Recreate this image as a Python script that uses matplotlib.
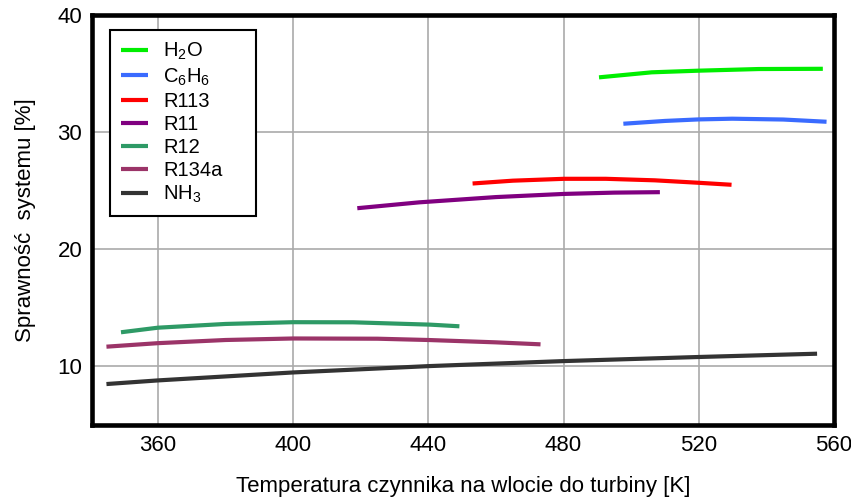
import matplotlib
matplotlib.use("Agg")
import matplotlib.pyplot as plt

FONT = ["Liberation Sans", "DejaVu Sans"]
plt.rcParams["font.family"] = FONT
plt.rcParams["mathtext.fontset"] = "custom"
plt.rcParams["mathtext.rm"] = "Liberation Sans"
plt.rcParams["mathtext.it"] = "Liberation Sans"

# values (T [K], efficiency [%])
h2o_t = [490.5, 506.1, 520.0, 537.7, 556.7]
h2o_eff = [34.67, 35.10, 35.24, 35.38, 35.40]

c6h6_t = [497.7, 510.0, 520.0, 529.9, 545.0, 557.8]
c6h6_eff = [30.71, 30.95, 31.08, 31.14, 31.07, 30.88]

r113_t = [453.1, 465.0, 480.2, 492.5, 507.0, 520.0, 529.7]
r113_eff = [25.61, 25.85, 26.01, 26.01, 25.88, 25.67, 25.50]

r11_t = [419.0, 437.3, 460.0, 480.2, 495.0, 508.5]
r11_eff = [23.50, 24.00, 24.45, 24.72, 24.83, 24.87]

r12_t = [349.1, 360.0, 380.0, 400.0, 417.8, 440.6, 449.2]
r12_eff = [12.91, 13.30, 13.62, 13.77, 13.76, 13.56, 13.42]

r134a_t = [344.8, 360.0, 380.0, 400.0, 425.0, 440.0, 460.0, 473.2]
r134a_eff = [11.68, 11.98, 12.25, 12.38, 12.36, 12.25, 12.05, 11.88]

nh3_t = [344.8, 360.0, 400.0, 440.0, 480.0, 520.0, 555.0]
nh3_eff = [8.49, 8.80, 9.48, 10.02, 10.45, 10.80, 11.08]

series = [
    (r"H$_\mathrm{2}$O", h2o_t, h2o_eff, "#00ee00"),
    (r"C$_\mathrm{6}$H$_\mathrm{6}$", c6h6_t, c6h6_eff, "#3a6bff"),
    ("R113", r113_t, r113_eff, "#ff0000"),
    ("R11", r11_t, r11_eff, "#800080"),
    ("R12", r12_t, r12_eff, "#2e9a66"),
    ("R134a", r134a_t, r134a_eff, "#9b3468"),
    (r"NH$_\mathrm{3}$", nh3_t, nh3_eff, "#333333"),
]

x_ticks = [360, 400, 440, 480, 520, 560]
y_ticks = [10, 20, 30, 40]

fig = plt.figure(figsize=(8.51, 4.97), dpi=100)
ax = fig.add_axes([0.108, 0.145, 0.872, 0.825])

for label, t, eff, color in series:
    ax.plot(t, eff, color=color, linewidth=3.0, label=label, solid_capstyle="butt")

ax.set_xlim(340.5, 560)
ax.set_ylim(5, 40)
ax.set_xticks(x_ticks)
ax.set_yticks(y_ticks)
ax.grid(True, color="#aaaaaa", linewidth=1.2)
ax.set_axisbelow(True)
ax.tick_params(length=0, labelsize=16, pad=7)
for sp in ax.spines.values():
    sp.set_linewidth(3.3)
    sp.set_color("black")

ax.set_xlabel("Temperatura czynnika na wlocie do turbiny [K]", fontsize=16, labelpad=15)
ax.set_ylabel("Sprawność  systemu [%]", fontsize=16, labelpad=15)

leg = ax.legend(loc="upper left", bbox_to_anchor=(0.024, 0.963 - 0.45, 0.197, 0.45),
                mode="expand", borderaxespad=0,
                fontsize=14.5, handlelength=1.35, handletextpad=0.75, labelspacing=0.2,
                borderpad=0.55, fancybox=False, framealpha=1)
leg.get_frame().set_edgecolor("black")
leg.get_frame().set_linewidth(1.5)

fig.savefig("out.png", dpi=100)
